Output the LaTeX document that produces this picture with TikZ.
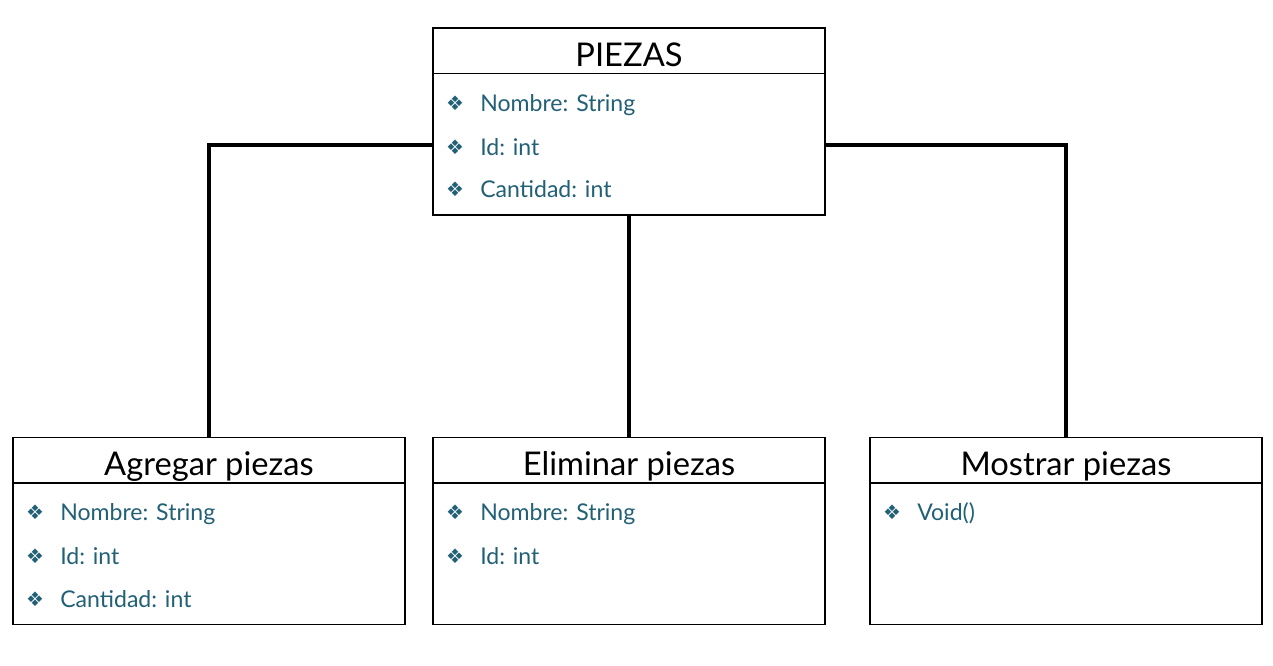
\documentclass[tikz,border=0pt]{standalone}
\usepackage{fontspec}
\setmainfont{Lato}
\newfontfamily\bulletfont{DejaVu Sans}
\usetikzlibrary{positioning}
\definecolor{itemteal}{RGB}{34,96,118}

\begin{document}
\begin{tikzpicture}[x=0.75pt, y=-0.75pt,
  classbox/.style={draw, line width=0.9pt, minimum width=294pt, minimum height=140.25pt, inner sep=0pt},
  title/.style={font=\fontsize{24.5}{28}\selectfont, text=black, inner sep=0pt, text height=17.6pt, text depth=0pt},
  bullet/.style={font=\bulletfont\fontsize{15}{17}\selectfont, text=itemteal, inner sep=0pt},
  item/.style={font=\fontsize{17.3}{20}\selectfont, text=itemteal, anchor=west, inner sep=0pt, text height=12.5pt, text depth=0pt},
  link/.style={line width=2.4pt}]
		\useasboundingbox (0,0) rectangle (1273,665);
		% PIEZAS class
		\node[classbox] (piezas) at (629,121.5) {};
		\draw[line width=0.9pt] (piezas.north west) ++(0,46) -- ++(392,0);
		\node[title] (piezastitle) at (629,54.5) {PIEZAS};
		\node[bullet] (pb1) at (455,103) {❖};
		\node[item] (pi1) at (480,103) {Nombre: String};
		\node[bullet] (pb2) at (455,147) {❖};
		\node[item] (pi2) at (480,147) {Id: int};
		\node[bullet] (pb3) at (455,189) {❖};
		\node[item] (pi3) at (480,189) {Cantidad: int};
		
		% Agregar piezas
		\node[classbox] (agregar) at (209,531) {};
		\draw[line width=0.9pt] (agregar.north west) ++(0,46) -- ++(392,0);
		\node[title] (agregartitle) at (209,464) {Agregar piezas};
		\node[bullet] (ab1) at (35,512) {❖};
		\node[item] (ai1) at (60,512) {Nombre: String};
		\node[bullet] (ab2) at (35,556) {❖};
		\node[item] (ai2) at (60,556) {Id: int};
		\node[bullet] (ab3) at (35,599) {❖};
		\node[item] (ai3) at (60,599) {Cantidad: int};
		
		% Eliminar piezas
		\node[classbox] (eliminar) at (629,531) {};
		\draw[line width=0.9pt] (eliminar.north west) ++(0,46) -- ++(392,0);
		\node[title] (eliminartitle) at (629,464) {Eliminar piezas};
		\node[bullet] (eb1) at (455,512) {❖};
		\node[item] (ei1) at (480,512) {Nombre: String};
		\node[bullet] (eb2) at (455,556) {❖};
		\node[item] (ei2) at (480,556) {Id: int};
		
		% Mostrar piezas
		\node[classbox] (mostrar) at (1066,531) {};
		\draw[line width=0.9pt] (mostrar.north west) ++(0,46) -- ++(392,0);
		\node[title] (mostrartitle) at (1066,464) {Mostrar piezas};
		\node[bullet] (mb1) at (892,512) {❖};
		\node[item] (mi1) at (917,512) {Void()};
		
		% links
		\draw[link] ([yshift=-17.6pt]piezas.west) -| (agregar.north);
		\draw[link] (piezas.south) -- (eliminar.north);
		\draw[link] ([yshift=-17.6pt]piezas.east) -| (mostrar.north);
		
	\end{tikzpicture}
\end{document}
